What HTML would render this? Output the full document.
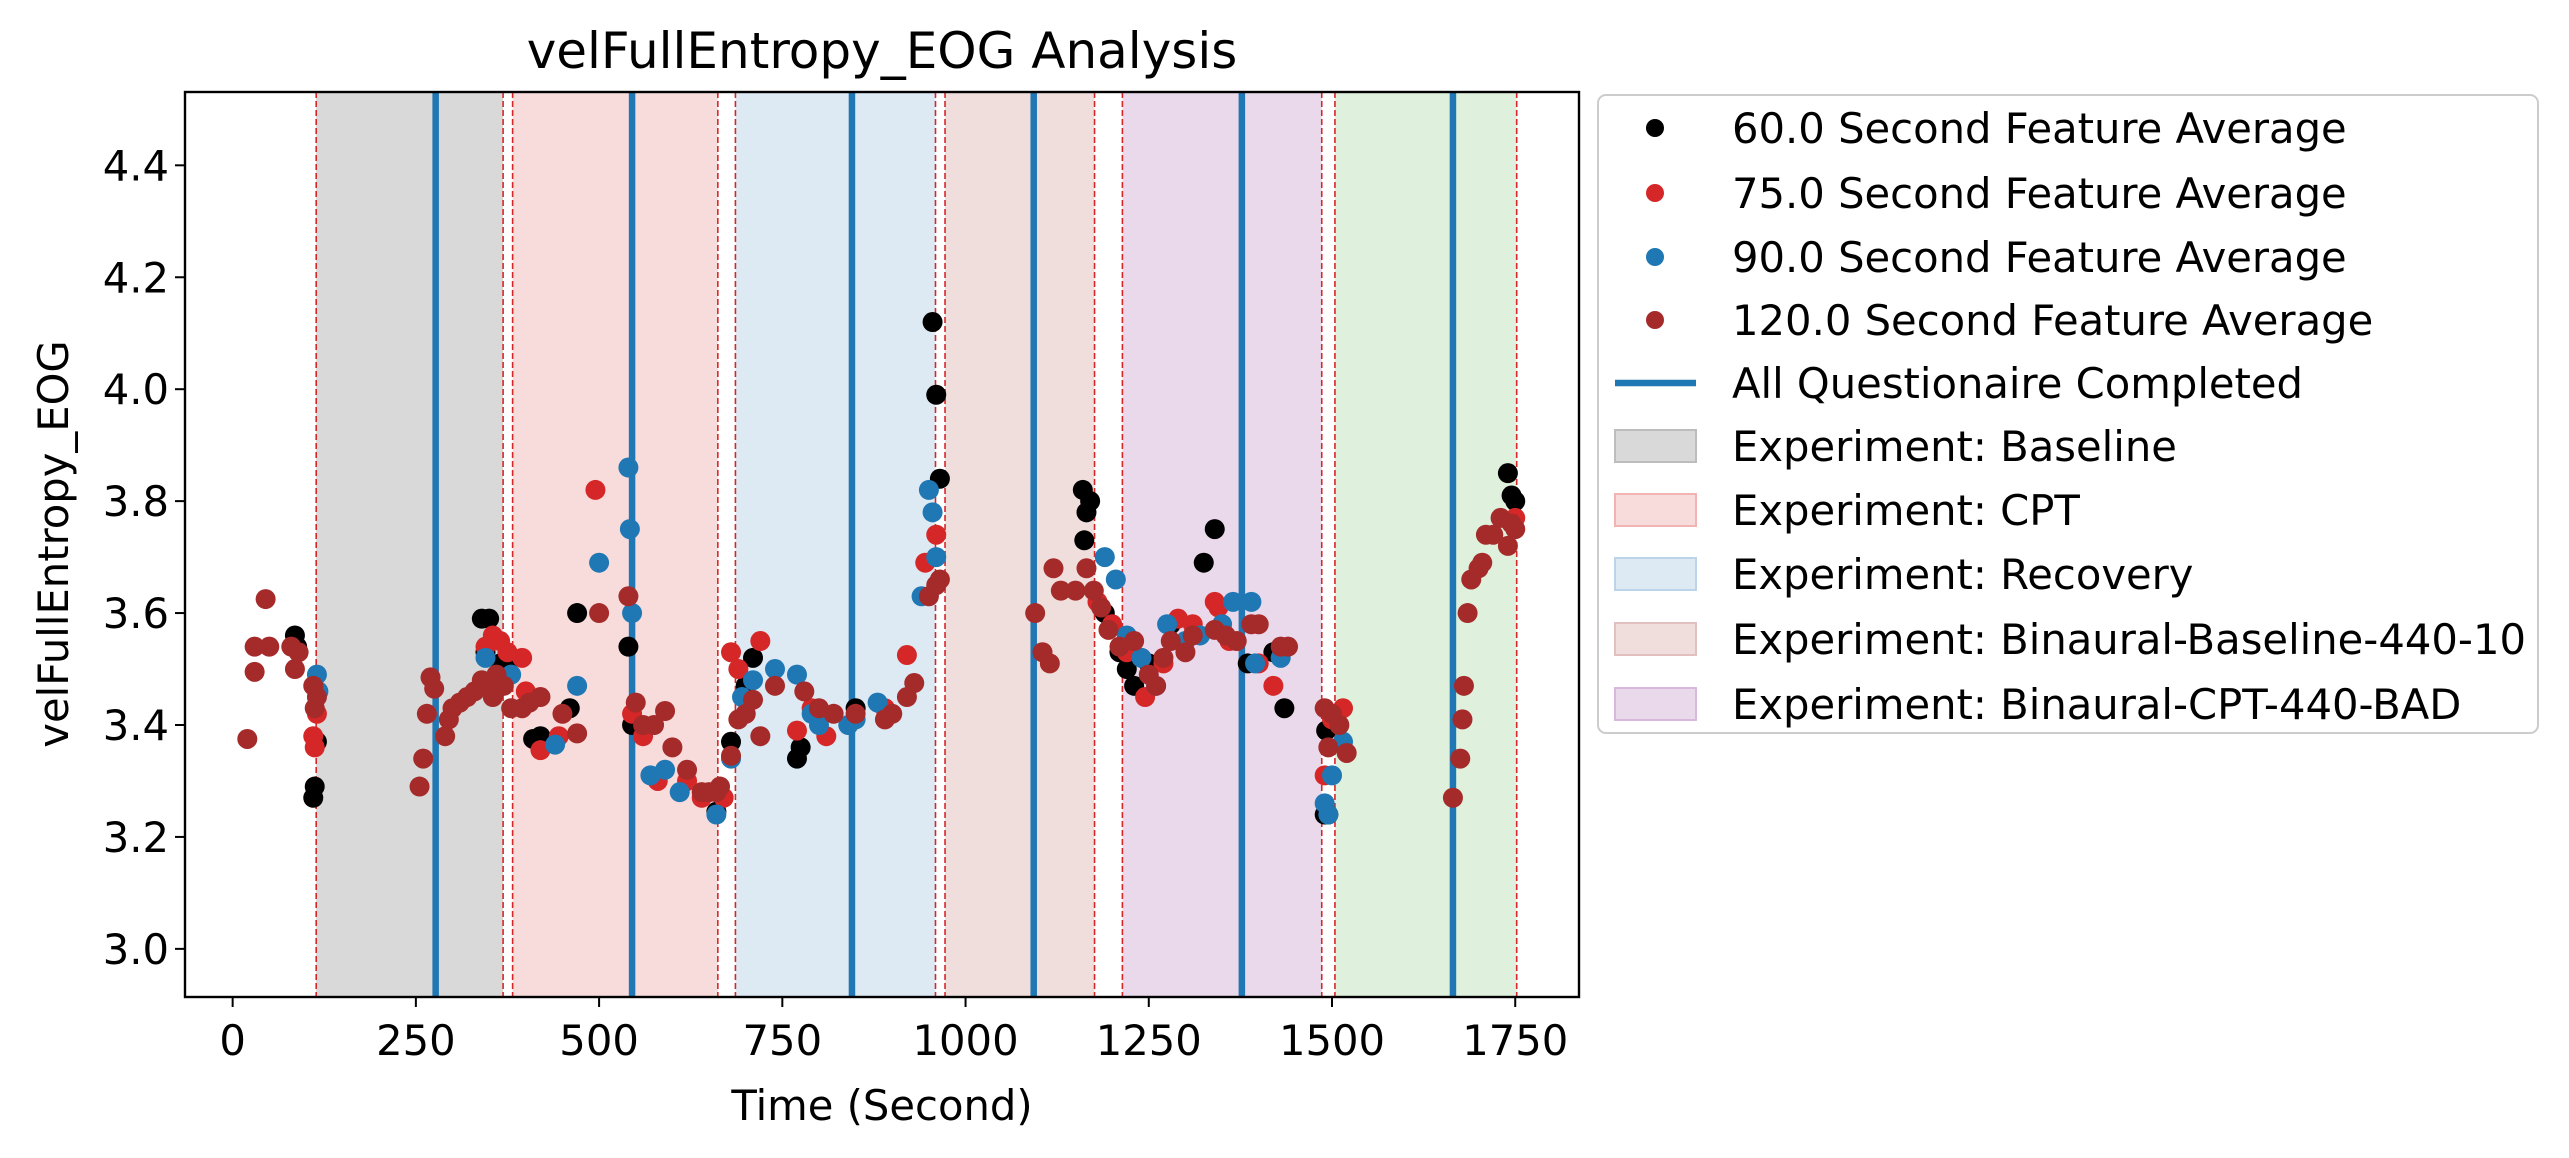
<!DOCTYPE html>
<html><head><meta charset="utf-8"><style>
html,body{margin:0;padding:0;background:#fff;}
svg{display:block;font-family:"DejaVu Sans","Liberation Sans",sans-serif;}
</style></head><body>
<svg id="chart" width="2569" height="1158" viewBox="0 0 2569 1158" xmlns="http://www.w3.org/2000/svg">
<g id="spans"></g>
<g id="vlines"></g>
<g id="points"></g>
<g id="axes"></g>
<text x="882" y="68" font-size="50" text-anchor="middle">velFullEntropy_EOG Analysis</text>
<text x="0" y="0" font-size="41.7" text-anchor="middle" transform="translate(68,544) rotate(-90)">velFullEntropy_EOG</text>
<text x="882" y="1120" font-size="41.7" text-anchor="middle">Time (Second)</text>
<g id="legend"></g>
</svg>
<script>
const xTicks=[0,250,500,750,1000,1250,1500,1750];
const yTicks=[3.0,3.2,3.4,3.6,3.8,4.0,4.2,4.4];
const spanStarts=[114,382,686,972,1214,1504];
const spanEnds=[369,662,959,1176,1486,1752];
const spanColors=["#d9d9d9","#f8dcdc","#dde9f3","#f0dedd","#ead9eb","#dff0dd"];
const questLines=[277,545,845,1093,1377,1665];
const s60=[[85,3.56],[88,3.54],[110,3.27],[112,3.29],[115,3.37],[340,3.59],[350,3.59],[345,3.53],[365,3.51],[375,3.5],[410,3.375],[420,3.38],[460,3.43],[470,3.6],[540,3.54],[545,3.4],[660,3.245],[680,3.37],[700,3.47],[710,3.52],[770,3.34],[775,3.36],[850,3.43],[955,4.12],[960,3.99],[965,3.84],[1160,3.82],[1165,3.78],[1162,3.73],[1170,3.8],[1190,3.6],[1210,3.53],[1220,3.5],[1230,3.47],[1250,3.51],[1280,3.58],[1325,3.69],[1340,3.75],[1385,3.51],[1420,3.53],[1435,3.43],[1490,3.24],[1492,3.39],[1495,3.24],[1740,3.85],[1745,3.81],[1750,3.8]];
const s75=[[110,3.38],[112,3.36],[115,3.42],[345,3.54],[355,3.56],[365,3.55],[375,3.53],[395,3.52],[400,3.46],[420,3.355],[445,3.38],[495,3.82],[545,3.42],[560,3.38],[580,3.3],[620,3.3],[640,3.27],[670,3.27],[680,3.53],[690,3.5],[700,3.42],[720,3.55],[770,3.39],[790,3.43],[810,3.38],[890,3.43],[920,3.525],[945,3.69],[960,3.74],[1180,3.62],[1200,3.58],[1220,3.53],[1245,3.45],[1270,3.51],[1290,3.59],[1310,3.58],[1340,3.62],[1345,3.61],[1360,3.55],[1400,3.51],[1420,3.47],[1490,3.31],[1500,3.41],[1515,3.43],[1750,3.77]];
const s90=[[115,3.49],[117,3.46],[345,3.52],[360,3.48],[380,3.49],[440,3.365],[470,3.47],[500,3.69],[540,3.86],[542,3.75],[545,3.6],[570,3.31],[590,3.32],[610,3.28],[660,3.24],[680,3.34],[695,3.45],[710,3.48],[740,3.5],[770,3.49],[790,3.42],[800,3.4],[840,3.4],[850,3.41],[880,3.44],[940,3.63],[950,3.82],[955,3.78],[960,3.7],[1190,3.7],[1205,3.66],[1220,3.56],[1240,3.52],[1260,3.47],[1275,3.58],[1300,3.55],[1320,3.56],[1350,3.58],[1365,3.62],[1390,3.62],[1395,3.51],[1430,3.52],[1490,3.26],[1495,3.24],[1500,3.31],[1515,3.37]];
const s120=[[20,3.375],[30,3.54],[30,3.495],[45,3.625],[50,3.54],[80,3.54],[85,3.5],[90,3.53],[110,3.47],[112,3.43],[115,3.45],[255,3.29],[260,3.34],[265,3.42],[270,3.485],[275,3.465],[290,3.38],[295,3.41],[300,3.43],[310,3.44],[320,3.45],[330,3.46],[340,3.48],[350,3.47],[355,3.45],[360,3.49],[370,3.47],[380,3.43],[395,3.43],[405,3.44],[420,3.45],[450,3.42],[470,3.385],[500,3.6],[540,3.63],[550,3.44],[560,3.4],[575,3.4],[590,3.425],[600,3.36],[620,3.32],[640,3.28],[650,3.28],[660,3.28],[665,3.29],[680,3.345],[690,3.41],[700,3.42],[710,3.445],[720,3.38],[740,3.47],[780,3.46],[800,3.43],[820,3.42],[850,3.42],[890,3.41],[900,3.42],[920,3.45],[930,3.475],[950,3.63],[960,3.65],[965,3.66],[1095,3.6],[1105,3.53],[1115,3.51],[1120,3.68],[1130,3.64],[1150,3.64],[1165,3.68],[1175,3.64],[1185,3.61],[1195,3.57],[1210,3.54],[1230,3.55],[1250,3.49],[1260,3.47],[1270,3.52],[1280,3.55],[1300,3.53],[1310,3.56],[1340,3.57],[1355,3.56],[1370,3.55],[1390,3.58],[1400,3.58],[1430,3.54],[1440,3.54],[1490,3.43],[1495,3.36],[1500,3.42],[1510,3.4],[1520,3.35],[1665,3.27],[1675,3.34],[1678,3.41],[1680,3.47],[1685,3.6],[1690,3.66],[1700,3.68],[1705,3.69],[1710,3.74],[1720,3.74],[1730,3.77],[1740,3.72],[1745,3.76],[1750,3.75]];
const legendLabels=["60.0 Second Feature Average","75.0 Second Feature Average","90.0 Second Feature Average","120.0 Second Feature Average","All Questionaire Completed","Experiment: Baseline","Experiment: CPT","Experiment: Recovery","Experiment: Binaural-Baseline-440-10","Experiment: Binaural-CPT-440-BAD"];

const NS="http://www.w3.org/2000/svg";
const L=185,R=1579,T=92,B=997;
const XMIN=-65,XMAX=1837,YMIN=2.914,YMAX=4.531;
function xs(t){return L+(t-XMIN)/(XMAX-XMIN)*(R-L);}
function ys(v){return B-(v-YMIN)/(YMAX-YMIN)*(B-T);}
function mk(tag,attrs,parent){const e=document.createElementNS(NS,tag);for(const k in attrs)e.setAttribute(k,attrs[k]);parent.appendChild(e);return e;}

const gS=document.getElementById('spans');
for(let i=0;i<spanStarts.length;i++){
  const r=mk('rect',{x:xs(spanStarts[i]),y:T,width:xs(spanEnds[i])-xs(spanStarts[i]),height:B-T,fill:spanColors[i]},gS);
  
  
  [spanStarts[i],spanEnds[i]].forEach(t=>{
    const l=mk('line',{x1:xs(t),x2:xs(t),y1:T,y2:B,stroke:'#d62728','stroke-width':1.6,'stroke-dasharray':'6,3'},gS);
    
    
  });
}
const gV=document.getElementById('vlines');
questLines.forEach(t=>{
  const l=mk('line',{x1:xs(t),x2:xs(t),y1:T,y2:B,stroke:'#1f77b4','stroke-width':6.5},gV);
  
  
});
const gP=document.getElementById('points');
const series=[[s60,'#000000','series-60s'],[s75,'#d62728','series-75s'],[s90,'#1f77b4','series-90s'],[s120,'#a52a2a','series-120s']];
series.forEach(([d,c,n])=>{
  const g=mk('g',{},gP);
  
  
  d.forEach(p=>{
    const el=mk('circle',{cx:xs(p[0]),cy:ys(p[1]),r:10,fill:c},g);
    
    
  });
});
const gA=document.getElementById('axes');
const frame=mk('rect',{x:L,y:T,width:R-L,height:B-T,fill:'none',stroke:'#000','stroke-width':2.4},gA);


xTicks.forEach(t=>{
  mk('line',{x1:xs(t),x2:xs(t),y1:B,y2:B+10,stroke:'#000','stroke-width':2},gA);
  const tx=mk('text',{x:xs(t),y:B+58,'font-size':41.7,'text-anchor':'middle'},gA);
  tx.textContent=t;
  
  
});
yTicks.forEach(v=>{
  mk('line',{x1:L-10,x2:L,y1:ys(v),y2:ys(v),stroke:'#000','stroke-width':2},gA);
  const tx=mk('text',{x:L-16,y:ys(v)+15,'font-size':41.7,'text-anchor':'end'},gA);
  tx.textContent=v.toFixed(1);
  
  
});
const gL=document.getElementById('legend');
const box=mk('rect',{x:1598,y:95,width:940,height:638,rx:8,fill:'#fff',stroke:'#cccccc','stroke-width':2},gL);


const rowY=[128,193,257,320,383,446,510,574,639,704];
const mcol=['#000000','#d62728','#1f77b4','#a52a2a'];
const pcol=[['#d9d9d9','#bdbdbd'],['#f8dcdc','#f2b3b3'],['#dde9f3','#bcd4ea'],['#f0dedd','#e2c0c0'],['#ead9eb','#d8b8dc']];
legendLabels.forEach((lab,i)=>{
  const y=rowY[i];
  const g=mk('g',{},gL);
  
  
  if(i<4) mk('circle',{cx:1655,cy:y,r:9,fill:mcol[i]},g);
  else if(i==4) mk('line',{x1:1615,x2:1696,y1:y,y2:y,stroke:'#1f77b4','stroke-width':6.5},g);
  else mk('rect',{x:1615,y:y-16,width:81,height:32,fill:pcol[i-5][0],stroke:pcol[i-5][1],'stroke-width':2},g);
  const t=mk('text',{x:1732,y:y+15,'font-size':41.7},g);
  t.textContent=lab;
});
</script>
</body></html>
